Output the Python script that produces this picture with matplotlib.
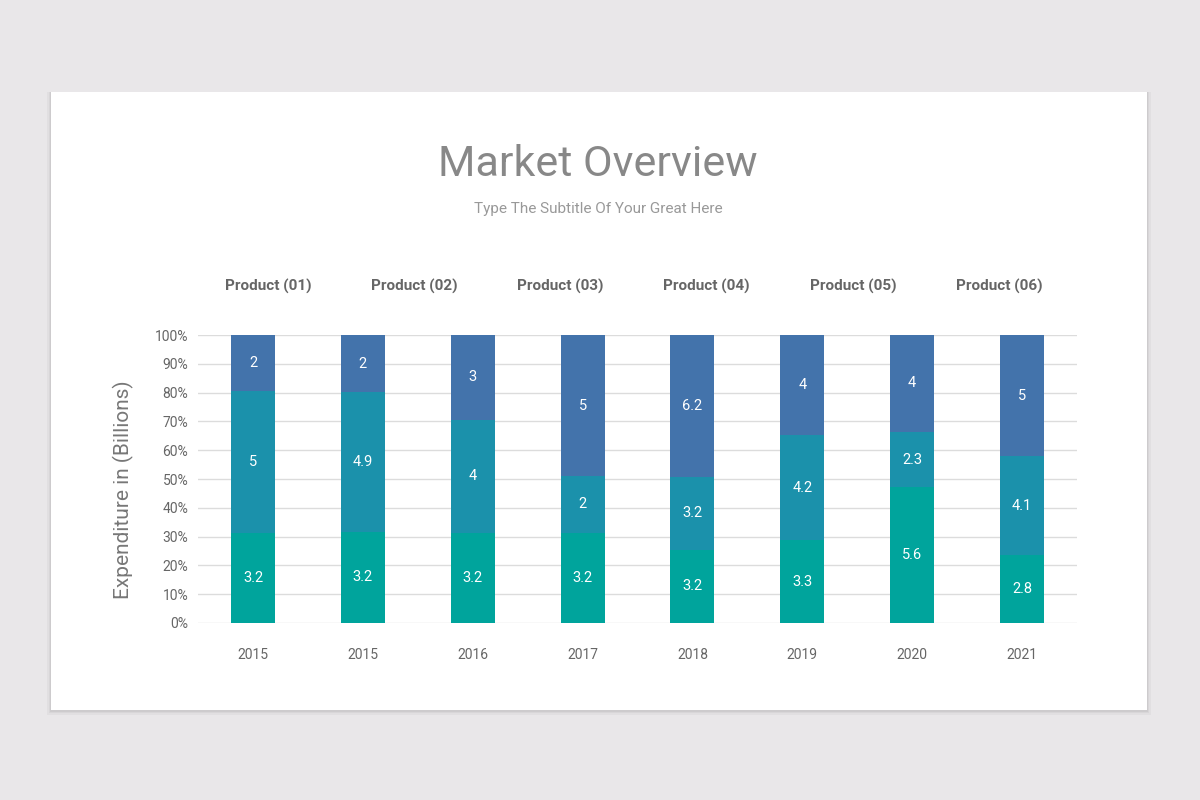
import numpy as np
import matplotlib
matplotlib.use("Agg")
import matplotlib.pyplot as plt
from matplotlib.patches import Rectangle
from matplotlib.ticker import PercentFormatter

plt.rcParams['font.family'] = ['Roboto', 'DejaVu Sans']

years = ["2015", "2015", "2016", "2017", "2018", "2019", "2020", "2021"]
products = ["Product (01)", "Product (02)", "Product (03)",
            "Product (04)", "Product (05)", "Product (06)"]
bottom_vals = [3.2, 3.2, 3.2, 3.2, 3.2, 3.3, 5.6, 2.8]
middle_vals = [5, 4.9, 4, 2, 3.2, 4.2, 2.3, 4.1]
top_vals = [2, 2, 3, 5, 6.2, 4, 4, 5]

colors = ["#00a49c", "#1b91ab", "#4373ab"]

fig = plt.figure(figsize=(12, 8), dpi=100)
fig.patch.set_facecolor("#e9e7e9")

# white card with a soft shadow
for i, a in enumerate([0.05, 0.04, 0.03]):
    off = 0.002 * (i + 1)
    fig.patches.append(Rectangle((51 / 1200 - off / 2, 1 - 710 / 800 - off), 1096 / 1200 + off, 618 / 800 + off,
                                 transform=fig.transFigure, facecolor="black", alpha=a,
                                 edgecolor="none", zorder=0))
fig.patches.append(Rectangle((51 / 1200, 1 - 710 / 800), 1096 / 1200, 618 / 800,
                             transform=fig.transFigure, facecolor="white",
                             edgecolor="none", zorder=1))

ax = fig.add_axes([198 / 1200, 1 - 623 / 800, 879 / 1200, 288 / 800])
ax.set_zorder(5)
ax.set_facecolor("none")

data = np.array([bottom_vals, middle_vals, top_vals])
totals = data.sum(axis=0)
pct = data / totals * 100
x = np.arange(len(years))

base = np.zeros(len(years))
for k in range(3):
    ax.bar(x, pct[k], 0.4, bottom=base, color=colors[k], zorder=3)
    for j in range(len(years)):
        ax.text(x[j], base[j] + pct[k][j] / 2, f"{data[k][j]:g}", ha="center", va="center",
                color="white", fontsize=10.5, zorder=4)
    base += pct[k]

ax.set_xlim(-0.5, 7.5)
ax.set_ylim(0, 100)
ax.set_yticks(np.arange(0, 101, 10))
ax.yaxis.set_major_formatter(PercentFormatter(decimals=0))
ax.set_xticks(x)
ax.set_xticklabels(years)
ax.tick_params(axis="both", length=0, labelsize=10, labelcolor="#666666")
ax.tick_params(axis="x", pad=18)
ax.tick_params(axis="y", pad=7)
ax.grid(axis="y", color="#dcdcdc", linewidth=1, zorder=0)
for s in ax.spines.values():
    s.set_visible(False)
ax.set_ylabel("Expenditure in (Billions)", fontsize=15, color="#777777")
ax.yaxis.set_label_coords(-0.073, 0.462)

# product headers
prod_x = [268, 414, 560, 706, 853, 999]
for px, p in zip(prod_x, products):
    fig.text(px / 1200, 1 - 286 / 800, p, ha="center", va="center", fontsize=11,
             fontweight="bold", color="#666666", zorder=5)

fig.text(598 / 1200, 1 - 165 / 800, "Market Overview", ha="center", va="center",
         fontsize=31, color="#888888", zorder=5)
fig.text(598 / 1200, 1 - 209 / 800, "Type The Subtitle Of Your Great Here", ha="center",
         va="center", fontsize=11, color="#999999", zorder=5)

fig.savefig("out.png", dpi=100, facecolor=fig.get_facecolor())
